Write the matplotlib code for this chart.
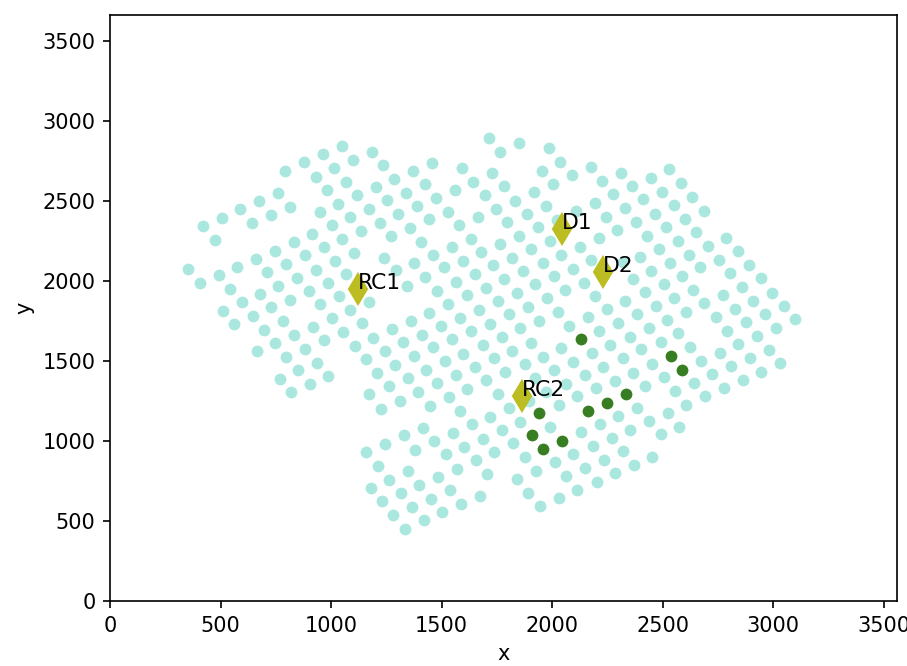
import matplotlib
matplotlib.use("Agg")
import matplotlib.pyplot as plt

# electrode grid (light points)
grid_x = [
    965, 878, 792, 930, 982, 759, 673, 589, 505, 419, 813, 727, 641, 473, 949, 914, 831, 747, 659, 574,
    491, 355, 405, 967, 881, 795, 712, 932, 848, 762, 678, 541, 596, 509, 559, 985, 900, 813, 730, 646,
    950, 781, 696, 917, 831, 748, 663, 967, 884, 798, 935, 849, 767, 986, 903, 818,
    1713, 1763, 1049, 1185, 1099, 1015, 1236, 1458, 1372, 1594, 1730, 1069, 1286, 1424, 1644, 1780, 1205, 1340,
    1562, 1698, 1117, 1031, 1254, 1390, 1476, 1527, 1747, 1170, 1087, 1304, 1442, 1664, 1795, 1006, 1223, 1356,
    1580, 1137, 1272, 1631, 1049, 1408, 1545, 1766, 1102, 1241, 1462, 1680, 1016, 1376, 1598, 1733, 1513, 1292,
    1066, 1343, 1426, 1563, 1649, 1702, 1036, 1171, 1478, 1616, 1754, 1087, 1531, 1668, 1444, 1006, 1138, 1363,
    1581, 1498, 1718, 1054, 1275, 1189, 1412, 1635, 1325, 1548, 1686, 1107, 1244, 1462, 1599, 1156, 1376, 1516,
    1736, 1289, 1652, 1207, 1429, 1346, 1567, 1478, 1702, 1262, 1173, 1393, 1616, 1756, 1533,
    1311, 1449, 1224, 1584, 1721, 1415, 1638, 1328, 1551, 1244, 1465, 1686, 1160, 1379, 1602, 1519, 1739, 1212,
    1656, 1571, 1347, 1485, 1704, 1262, 1400, 1180, 1537, 1316, 1453, 1673, 1230, 1365, 1589, 1280, 1503, 1420,
    1334,
    1849, 1986, 2036, 1953, 2177, 2090, 2311, 2004, 2226, 2362, 2448, 1918, 2277, 1834, 1971, 2194, 2412, 1885,
    2106, 2328, 2466, 2020, 2242, 2379, 1936, 2295, 2430, 1852, 1989, 2126, 2210, 1903, 2040, 2176, 2399, 1817,
    2483,
    2530, 2584, 2499, 2633, 2549, 2686, 2602, 2516, 2651, 2569, 2788, 2706, 2843, 2620,
    1957, 2093, 2319, 2448, 1784, 1870, 1924, 2007, 2058, 2144, 2195, 2367, 2418, 2504, 1840, 1977, 2329, 2469,
    1889, 1804, 2027, 2246, 2386, 2162, 1939, 2299, 2076, 2520, 1855, 1772, 2213, 2436, 1906, 2352, 2042, 2263,
    2492, 1819, 1957, 2180, 2402, 2319, 1875, 2093, 2010, 2231, 1789, 2451, 2505, 1923, 2147, 2367, 2063, 2284,
    2420, 2198, 1973, 2111,
    2534, 2671, 2757, 2891, 2587, 2806, 2944, 2638, 2861, 2996, 2552, 2775, 2910, 2689, 3048, 2605, 2826, 2963,
    2742, 3100, 2879, 3014, 2793, 2570, 2928, 2843, 2983, 2624, 2760, 2897, 3032, 2674, 2810, 2725, 2946, 2641,
    2864, 2778, 2555, 2692,
    2605, 2525, 2575, 2492,
    1807, 1897, 2029, 2386, 2299, 2436, 1856, 1992, 2215, 2352, 1773, 2132, 2269, 1825, 2183, 2319, 2454, 2096,
    1875, 2011, 2233, 2370, 2150, 1927, 2063, 2286, 1842, 2201, 1891, 2114, 2031, 1945,
]
grid_y = [
    2792, 2742, 2686, 2652, 2567, 2552, 2500, 2448, 2394, 2344, 2461, 2412, 2364, 2258, 2433, 2294, 2244, 2189, 2139, 2088,
    2036, 2073, 1988, 2211, 2161, 2106, 2056, 2071, 2021, 1969, 1917, 1952, 1869, 1812, 1729, 1986, 1936, 1883, 1836, 1779,
    1854, 1750, 1696, 1715, 1665, 1610, 1560, 1629, 1577, 1525, 1490, 1442, 1388, 1406, 1356, 1304,
    2896, 2808, 2844, 2808, 2754, 2706, 2725, 2739, 2689, 2704, 2675, 2621, 2636, 2608, 2621, 2594, 2586, 2552,
    2571, 2538, 2538, 2483, 2504, 2467, 2519, 2431, 2452, 2448, 2398, 2419, 2386, 2402, 2369, 2350, 2362, 2329,
    2348, 2314, 2279, 2264, 2261, 2244, 2211, 2231, 2175, 2142, 2161, 2181, 2125, 2111, 2127, 2098, 2086, 2069,
    2044, 1971, 2023, 1992, 2044, 1958, 1906, 1869, 1938, 1912, 1875, 1819, 1854, 1819, 1802, 1767, 1736, 1750,
    1767, 1719, 1731, 1681, 1700, 1644, 1665, 1686, 1617, 1638, 1602, 1596, 1560, 1585, 1544, 1510, 1529, 1500,
    1519, 1477, 1462, 1427, 1444, 1394, 1412, 1360, 1383, 1342, 1292, 1308, 1327, 1296, 1275,
    1250, 1221, 1202, 1189, 1152, 1083, 1106, 1036, 1052, 979, 1000, 1014, 929, 946, 965, 917, 931, 846,
    881, 827, 812, 775, 796, 758, 727, 708, 694, 673, 640, 658, 623, 589, 608, 538, 554, 504,
    450,
    2864, 2829, 2746, 2689, 2711, 2661, 2677, 2606, 2627, 2592, 2646, 2558, 2544, 2502, 2471, 2489, 2511, 2419,
    2439, 2456, 2421, 2383, 2402, 2369, 2336, 2317, 2283, 2283, 2252, 2214, 2267, 2198, 2164, 2131, 2152, 2146,
    2200,
    2698, 2613, 2558, 2527, 2473, 2439, 2388, 2338, 2304, 2250, 2269, 2221, 2186, 2164,
    2111, 2073, 2121, 2063, 2011, 2063, 1981, 2031, 1944, 1989, 1906, 2011, 1929, 1981, 1923, 1892, 1875, 1844,
    1839, 1794, 1804, 1823, 1794, 1773, 1752, 1739, 1719, 1754, 1704, 1650, 1688, 1704, 1614, 1652, 1579, 1600,
    1621, 1564, 1527, 1552, 1573, 1517, 1479, 1496, 1444, 1464, 1431, 1481, 1398, 1392, 1412, 1427, 1356, 1377,
    1346, 1329, 1308, 1281,
    2111, 2086, 2131, 2102, 2031, 2048, 2017, 1944, 1964, 1927, 1892, 1914, 1877, 1861, 1844, 1808, 1827, 1794,
    1773, 1761, 1742, 1708, 1689, 1673, 1654, 1606, 1569, 1585, 1550, 1521, 1485, 1502, 1467, 1417, 1431, 1365,
    1383, 1333, 1314, 1279,
    1227, 1173, 1089, 1042,
    1204, 1250, 1225, 1208, 1158, 1125, 1119, 1089, 1104, 1069, 1069, 1054, 1021, 986, 971, 936, 902, 917,
    900, 867, 881, 850, 833, 814, 781, 798, 762, 746, 677, 694, 644, 594,
]

# highlighted electrodes (dark green)
sel_x = [2131, 2537, 2587, 2334, 2248, 1942, 2164, 1909, 2046, 1960]
sel_y = [1636, 1533, 1446, 1292, 1240, 1173, 1188, 1036, 1000, 950]

# labelled reference points
ref_names = ["D1", "D2", "RC1", "RC2"]
ref_x = [2043, 2231, 1121, 1862]
ref_y = [2323, 2058, 1950, 1281]

fig = plt.figure(figsize=(907 / 150, 666 / 150), dpi=150)
ax = fig.add_axes([110 / 907, 65 / 666, 787 / 907, 586 / 666])

ax.scatter(grid_x, grid_y, s=32, color="#a9e7df", linewidths=0, zorder=2)
ax.scatter(sel_x, sel_y, s=32, color="#377d22", linewidths=0, zorder=3)
ax.plot(ref_x, ref_y, "d", color="#bcbd22", markersize=10, linestyle="none", zorder=4)
for name, x, y in zip(ref_names, ref_x, ref_y):
    ax.text(x, y, name, fontsize=10.5, zorder=5)

ax.set_xlim(0, 3560)
ax.set_ylim(0, 3662)
ax.set_xticks(range(0, 3501, 500))
ax.set_yticks(range(0, 3501, 500))
ax.set_xlabel("x")
ax.set_ylabel("y")

fig.savefig("out.png", dpi=150)
